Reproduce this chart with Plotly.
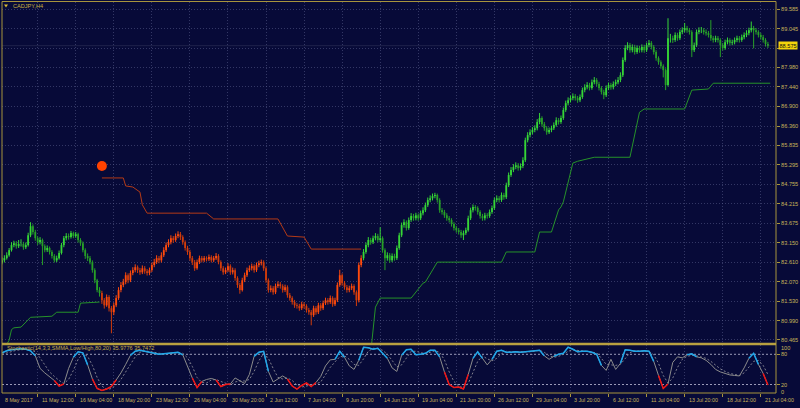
import plotly.graph_objects as go

# ---------------- data ----------------
close = [
82.66,82.72,82.80,82.94,83.08,83.13,83.05,83.11,83.11,83.02,
83.08,83.35,83.60,83.44,83.27,83.16,83.22,83.05,82.94,83.00,
82.89,82.78,82.66,82.72,82.86,83.08,83.27,83.33,83.30,83.41,
83.33,83.38,83.22,83.13,82.94,82.78,82.72,82.61,82.39,82.11,
81.84,81.76,81.56,81.42,81.65,81.34,81.23,81.42,81.62,81.84,
81.98,82.06,82.25,82.11,82.31,82.39,82.47,82.39,82.33,82.44,
82.36,82.31,82.39,82.53,82.61,82.72,82.66,82.80,82.94,83.08,
83.16,83.27,83.22,83.33,83.38,83.30,83.16,83.00,82.89,82.72,
82.61,82.44,82.61,82.72,82.66,82.72,82.69,82.75,82.66,82.72,
82.78,82.61,82.44,82.33,82.39,82.50,82.33,82.39,82.17,81.98,
81.84,82.11,82.25,82.39,82.44,82.50,82.39,82.53,82.58,82.61,
82.44,82.11,81.84,81.89,81.78,81.95,82.00,81.95,81.84,81.92,
81.70,81.62,81.51,81.42,81.40,81.34,81.45,81.40,81.29,81.23,
81.15,81.34,81.23,81.42,81.34,81.48,81.56,81.51,81.62,81.45,
81.56,81.98,82.25,82.03,81.92,81.84,81.89,81.95,81.78,81.56,
82.53,82.72,82.89,83.08,83.22,83.16,83.27,83.33,83.22,83.27,
82.94,82.72,82.80,82.66,82.78,82.72,83.00,83.35,83.63,83.71,
83.55,83.77,83.88,83.82,83.90,83.82,83.96,84.04,84.18,84.32,
84.37,84.43,84.46,84.32,84.04,83.99,83.90,83.82,83.77,83.66,
83.55,83.49,83.44,83.35,83.41,83.49,83.82,84.04,84.13,84.10,
83.99,83.88,83.82,83.90,83.88,83.99,84.10,84.32,84.37,84.32,
84.46,84.40,84.73,85.01,85.15,85.23,85.28,85.20,85.26,85.42,
85.97,86.11,86.19,86.25,86.30,86.47,86.58,86.41,86.30,86.19,
86.25,86.30,86.39,86.52,86.47,86.58,86.80,86.99,87.07,87.13,
87.18,87.13,87.07,87.16,87.35,87.43,87.49,87.41,87.57,87.63,
87.52,87.41,87.30,87.21,87.41,87.49,87.43,87.52,87.57,87.63,
87.76,88.18,88.51,88.59,88.45,88.54,88.40,88.51,88.45,88.54,
88.45,88.59,88.65,88.54,88.40,88.23,88.12,88.01,87.90,87.49,
88.78,88.78,88.73,88.87,88.78,88.95,89.00,89.06,89.00,88.95,
88.45,88.59,88.95,89.00,89.00,88.95,88.92,88.87,88.78,88.73,
88.78,88.73,88.59,88.51,88.67,88.73,88.65,88.67,88.73,88.78,
88.73,88.81,88.87,88.92,89.00,89.06,89.00,88.95,88.87,88.81,
88.73,88.62,88.575]

high = [
82.74,82.80,82.88,83.00,83.16,83.20,83.19,83.22,83.24,83.17,
83.15,83.42,83.71,83.65,83.50,83.32,83.30,83.26,83.10,83.07,
83.04,82.94,82.83,82.79,82.93,83.14,83.33,83.41,83.40,83.47,
83.45,83.44,83.42,83.27,83.18,82.99,82.85,82.78,82.66,82.44,
82.15,81.92,81.82,81.62,81.72,81.70,81.40,81.49,81.70,81.92,
82.06,82.15,82.33,82.30,82.38,82.47,82.55,82.52,82.45,82.52,
82.50,82.42,82.46,82.60,82.70,82.80,82.78,82.88,83.02,83.15,
83.24,83.35,83.33,83.40,83.46,83.44,83.35,83.21,83.06,82.95,
82.78,82.67,82.68,82.79,82.78,82.78,82.77,82.82,82.80,82.78,
82.86,82.83,82.66,82.50,82.46,82.58,82.55,82.46,82.44,82.22,
82.04,82.18,82.32,82.46,82.52,82.57,82.55,82.60,82.65,82.68,
82.66,82.49,82.16,81.97,81.95,82.02,82.08,82.06,82.00,81.99,
81.97,81.76,81.67,81.57,81.48,81.46,81.52,81.51,81.45,81.35,
81.29,81.41,81.40,81.49,81.48,81.55,81.63,81.62,81.69,81.67,
81.63,82.05,82.40,82.30,82.09,81.98,81.96,82.02,82.00,81.83,
82.60,82.80,82.97,83.15,83.30,83.28,83.34,83.41,83.39,83.57,
83.32,82.99,82.88,82.86,82.85,82.84,83.07,83.42,83.70,83.79,
83.76,83.84,83.96,83.94,83.97,83.95,84.03,84.12,84.25,84.39,
84.45,84.50,84.52,84.50,84.37,84.10,84.05,83.96,83.88,83.82,
83.71,83.61,83.55,83.50,83.48,83.56,83.89,84.11,84.20,84.18,
84.15,84.04,83.94,83.97,83.96,84.06,84.17,84.39,84.45,84.43,
84.53,84.52,84.80,85.08,85.23,85.31,85.36,85.34,85.33,85.50,
86.04,86.19,86.27,86.33,86.38,86.55,86.72,86.63,86.47,86.36,
86.32,86.37,86.46,86.60,86.58,86.65,86.87,87.06,87.15,87.20,
87.26,87.24,87.19,87.23,87.42,87.51,87.57,87.55,87.64,87.71,
87.68,87.58,87.46,87.36,87.48,87.56,87.55,87.59,87.64,87.71,
87.84,88.25,88.59,88.67,88.65,88.61,88.60,88.58,88.57,88.61,
88.60,88.66,88.73,88.70,88.59,88.45,88.28,88.17,88.06,87.95,
89.33,88.90,88.85,88.94,88.93,89.02,89.08,89.20,89.12,89.06,
89.00,88.66,89.02,89.08,89.09,89.06,89.02,88.98,89.28,88.84,
88.85,88.84,88.78,88.65,88.74,88.80,88.78,88.74,88.80,88.85,
88.84,88.88,88.94,89.00,89.07,89.24,89.12,89.06,89.00,88.93,
88.87,88.78,88.68]

low = [
82.55,82.60,82.68,82.76,82.90,83.02,82.98,83.00,83.04,82.95,
82.97,83.04,83.30,83.37,83.20,83.08,83.10,82.53,82.88,82.89,
82.82,82.71,82.60,82.61,82.68,82.82,83.02,83.21,83.23,83.26,
83.27,83.28,83.15,83.06,82.88,82.70,82.64,82.55,82.32,82.03,
81.78,81.66,81.46,81.33,81.38,81.25,80.65,81.15,81.37,81.57,
81.78,81.92,82.00,82.03,82.06,82.25,82.33,82.31,82.26,82.28,
82.29,82.24,82.25,82.34,82.47,82.56,82.58,82.60,82.75,82.89,
83.02,83.10,83.14,83.17,83.27,83.22,83.09,82.93,82.81,82.65,
82.53,82.37,82.40,82.56,82.60,82.61,82.63,82.64,82.60,82.61,
82.67,82.55,82.37,82.26,82.28,82.34,82.26,82.27,82.10,81.90,
81.74,81.80,82.06,82.20,82.34,82.38,82.32,82.34,82.47,82.52,
82.37,82.04,81.77,81.78,81.71,81.73,81.90,81.88,81.77,81.79,
81.63,81.55,81.44,81.35,81.33,81.27,81.29,81.33,81.22,81.16,
80.87,81.10,81.16,81.18,81.27,81.29,81.43,81.44,81.46,81.38,
81.40,81.51,81.93,81.96,81.85,81.77,81.78,81.84,81.71,81.40,
81.50,82.47,82.66,82.84,83.02,83.09,83.11,83.21,83.15,83.16,
82.87,82.39,82.65,82.59,82.61,82.65,82.67,82.95,83.30,83.56,
83.48,83.50,83.72,83.75,83.76,83.75,83.77,83.90,83.99,84.13,
84.26,84.31,84.37,84.25,83.97,83.92,83.83,83.75,83.70,83.59,
83.48,83.42,83.37,83.28,83.22,83.36,83.45,83.77,83.98,84.03,
83.92,83.81,83.75,83.76,83.81,83.83,83.94,84.05,84.26,84.25,
84.27,84.33,84.35,84.68,84.96,85.09,85.17,85.13,85.14,85.20,
85.37,85.91,86.05,86.13,86.19,86.24,86.41,86.34,86.23,86.12,
86.14,86.19,86.25,86.34,86.40,86.42,86.53,86.75,86.93,87.01,
87.07,87.06,87.00,87.02,87.11,87.29,87.37,87.34,87.36,87.51,
87.45,87.34,87.23,87.10,87.16,87.35,87.36,87.37,87.46,87.51,
87.57,87.71,88.13,88.45,88.38,88.39,88.33,88.35,88.38,88.39,
88.38,88.40,88.53,88.47,88.33,88.16,88.05,87.94,87.70,87.35,
87.45,88.66,88.65,88.68,88.71,88.73,88.89,88.94,88.93,88.88,
88.26,88.40,88.54,88.89,88.92,88.88,88.85,88.80,88.71,88.66,
88.67,88.66,88.26,88.44,88.46,88.61,88.58,88.59,88.61,88.67,
88.66,88.68,88.75,88.81,88.86,88.94,88.50,88.88,88.80,88.74,
88.66,88.55,88.51]

first_open = 82.60
open_ = [first_open] + close[:-1]

# bars (inclusive) in the down-trend (orange) regime
down_trend = (42, 151)

# trailing-stop lines: (bar, price) vertices
stop_up1_bar = [0, 3, 4, 5, 8, 10, 12, 21, 23, 32, 33, 41]
stop_up1_val = [80.10, 80.46, 80.75, 80.80, 80.82, 80.95, 81.09, 81.12, 81.23, 81.23, 81.48, 81.51]
stop_dn_bar = [42, 51, 52, 55, 58, 59, 61, 86, 89, 116, 120, 127, 130, 151]
stop_dn_val = [84.93, 84.93, 84.71, 84.68, 84.54, 84.19, 83.96, 83.96, 83.80, 83.80, 83.33, 83.30, 82.97, 82.97]
stop_up2_bar = [155, 157, 159, 172, 177, 178, 183, 210, 212, 224, 226, 231, 234, 235, 236, 239, 240, 242,
                249, 264, 268, 270, 287, 290, 297, 299, 323]
stop_up2_val = [80.10, 81.37, 81.62, 81.62, 82.03, 82.06, 82.61, 82.61, 82.89, 82.89, 83.44, 83.44, 84.05,
                84.13, 84.27, 85.09, 85.34, 85.39, 85.50, 85.50, 86.74, 86.83, 86.83, 87.35, 87.38, 87.54, 87.54]
signal_dot_bar = 42
signal_dot_val = 85.26

current_price = 88.575

# stochastic sampled every 2 bars
stoch_step = 2
stoch_main = [83,87,89,90,91,90,87,77,52,43, 35,28,17,21,52,74,85,83,59,31,
              12,8,11,16,29,43,60,78,86,88, 86,84,83,80,81,82,83,84,79,55,
              33,14,26,30,32,29,16,20,21,33, 27,22,40,76,84,86,46,25,31,37,
              31,17,11,18,23,16,24,36,57,69, 70,86,74,57,50,68,94,93,90,92,
              82,72,53,46,78,89,90,79,80,82, 88,88,75,45,20,14,15,11,40,72,
              85,72,59,70,86,88,84,84,85,84, 85,86,88,88,77,70,76,80,82,94,
              90,85,86,86,84,80,58,48,70,50, 62,89,88,86,86,87,86,66,38,12,
              21,64,75,73,79,81,75,73,68,60, 50,45,42,39,38,37,53,72,82,60,
              42,19]
stoch_signal = [80,83,86,88,89,90,89,85,73,58, 45,36,28,22,30,48,70,81,76,58,
                34,17,10,12,19,30,44,60,75,84, 87,86,84,82,81,81,82,83,82,73,
                56,34,24,23,29,30,26,22,19,25, 27,27,30,46,67,82,72,52,34,31,
                33,28,19,15,17,19,21,25,39,54, 65,75,77,70,60,58,71,86,92,91,
                88,80,68,55,59,73,86,86,83,81, 84,87,84,69,45,26,17,13,22,44,
                66,77,71,67,72,81,86,85,85,84, 85,85,86,88,84,77,74,76,80,86,
                89,88,86,86,85,83,72,60,59,58, 60,72,83,87,86,86,86,79,62,38,
                23,33,54,70,76,78,77,75,72,66, 59,51,46,42,40,38,43,55,66,68,
                58,40]
stoch_levels = [80, 20]

price_ticks = [89.585, 89.045, 88.510, 87.980, 87.440, 86.900, 86.360, 85.835, 85.295,
               84.755, 84.215, 83.675, 83.150, 82.610, 82.070, 81.530, 80.990, 80.465]
price_tick_text = ["89.585", "89.045", "", "87.980", "87.440", "86.900", "86.360", "85.835", "85.295",
                   "84.755", "84.215", "83.675", "83.150", "82.610", "82.070", "81.530", "80.990", "80.465"]

date_bars = [0, 15, 31, 47, 63, 79, 95, 111, 127, 143, 159, 175, 191, 207, 223, 239, 255, 271, 287, 303, 319]
date_labels = ["8 May 2017", "11 May 12:00", "16 May 04:00", "18 May 20:00", "23 May 12:00", "26 May 04:00",
               "30 May 20:00", "2 Jun 12:00", "7 Jun 04:00", "9 Jun 20:00", "14 Jun 12:00", "19 Jun 04:00",
               "21 Jun 20:00", "26 Jun 12:00", "29 Jun 04:00", "3 Jul 20:00", "6 Jul 12:00", "11 Jul 04:00",
               "13 Jul 20:00", "18 Jul 12:00", "21 Jul 04:00"]

title_text = "CADJPY,H4"
stoch_text = "Stochastic(14,3,3,SMMA,Low/High,80,20) 35.9776 35.7472"

# ---------------- style ----------------
W, H = 800, 408
BG = "#070a38"
GOLD = "#a8943c"
GOLD_B = "#b8a040"
TXT = "#c8b458"
GRID = "rgba(95,100,145,0.5)"
GDASH = "1px,2px"
FONT = "Liberation Sans, Arial, sans-serif"
FS = 5.6
FS_DATE = 5.3

def px_x(p):
    return p / W

def px_y(p):
    return 1 - p / H

colors = {
    (False, True): "#36d636",
    (False, False): "#27a027",
    (True, True): "#ff4a0c",
    (True, False): "#d23c0a",
}

fig = go.Figure()

N = len(close)
groups = {k: ([], [], [], []) for k in colors}
for i in range(N):
    is_down = down_trend[0] <= i <= down_trend[1]
    bull = close[i] >= open_[i]
    wx, wy, bx, by = groups[(is_down, bull)]
    wx += [i, i, None]
    wy += [low[i], high[i], None]
    bx += [i, i, None]
    by += [open_[i], close[i], None]

for k, (wx, wy, bx, by) in groups.items():
    fig.add_trace(go.Scatter(x=wx, y=wy, mode="lines", line=dict(color=colors[k], width=1),
                             hoverinfo="skip", xaxis="x", yaxis="y"))
    fig.add_trace(go.Scatter(x=bx, y=by, mode="lines", line=dict(color=colors[k], width=1.8),
                             hoverinfo="skip", xaxis="x", yaxis="y"))

# trailing stops
fig.add_trace(go.Scatter(x=stop_up1_bar, y=stop_up1_val, mode="lines",
                         line=dict(color="#26922a", width=1), xaxis="x", yaxis="y", hoverinfo="skip"))
fig.add_trace(go.Scatter(x=stop_up2_bar, y=stop_up2_val, mode="lines",
                         line=dict(color="#26922a", width=1), xaxis="x", yaxis="y", hoverinfo="skip"))
fig.add_trace(go.Scatter(x=stop_dn_bar, y=stop_dn_val, mode="lines",
                         line=dict(color="#b43a16", width=1), xaxis="x", yaxis="y", hoverinfo="skip"))
fig.add_trace(go.Scatter(x=[signal_dot_bar], y=[signal_dot_val], mode="markers",
                         marker=dict(color="#ff4200", size=10, line=dict(width=0)),
                         xaxis="x", yaxis="y", hoverinfo="skip"))
# bid line
fig.add_trace(go.Scatter(x=[0, 326], y=[current_price, current_price], mode="lines",
                         line=dict(color="rgba(120,120,140,0.22)", width=1),
                         xaxis="x", yaxis="y", hoverinfo="skip"))

# stochastic
sx = [i * stoch_step for i in range(len(stoch_main))]
for lv in stoch_levels:
    fig.add_trace(go.Scatter(x=[0, 326], y=[lv, lv], mode="lines",
                             line=dict(color="#9a9ab8", width=1, dash="2px,2px"),
                             xaxis="x2", yaxis="y2", hoverinfo="skip"))
fig.add_trace(go.Scatter(x=sx, y=stoch_signal, mode="lines",
                         line=dict(color="#80808e", width=1, dash="2px,2px"),
                         xaxis="x2", yaxis="y2", hoverinfo="skip"))
fig.add_trace(go.Scatter(x=sx, y=stoch_main, mode="lines",
                         line=dict(color="#8c8c8c", width=1),
                         xaxis="x2", yaxis="y2", hoverinfo="skip"))

def zone(test):
    ys = []
    n = len(stoch_main)
    for j, v in enumerate(stoch_main):
        near = test(v) or (j > 0 and test(stoch_main[j - 1])) or (j < n - 1 and test(stoch_main[j + 1]))
        ys.append(v if near else None)
    return ys

fig.add_trace(go.Scatter(x=sx, y=zone(lambda v: v >= 80), mode="lines", connectgaps=False,
                         line=dict(color="#1ea6ea", width=1.5), xaxis="x2", yaxis="y2", hoverinfo="skip"))
fig.add_trace(go.Scatter(x=sx, y=zone(lambda v: v <= 20), mode="lines", connectgaps=False,
                         line=dict(color="#f01414", width=1.5), xaxis="x2", yaxis="y2", hoverinfo="skip"))

# ---------------- layout ----------------
xr = [0, 325.4]
main_dom = [px_y(343), px_y(2)]
ind_dom = [px_y(393), px_y(345)]

fig.update_layout(
    width=W, height=H, margin=dict(l=0, r=0, t=0, b=0, autoexpand=False), autosize=False,
    paper_bgcolor=BG, plot_bgcolor=BG, showlegend=False, hovermode=False,
    xaxis=dict(domain=[px_x(2), px_x(776)], range=xr, anchor="y", showticklabels=False,
               tickvals=date_bars[1:], showgrid=True, gridcolor=GRID, griddash=GDASH, gridwidth=1,
               zeroline=False, showline=False, ticks=""),
    yaxis=dict(domain=main_dom, range=[80.382, 89.778], anchor="x", side="right",
               tickvals=price_ticks, ticktext=price_tick_text, ticks="outside", ticklen=3,
               tickcolor=GOLD, tickfont=dict(family=FONT, size=FS, color=TXT),
               showgrid=True, gridcolor=GRID, griddash=GDASH, gridwidth=1, zeroline=False, showline=False),
    xaxis2=dict(domain=[px_x(2), px_x(776)], range=xr, anchor="y2", showticklabels=False,
                tickvals=date_bars[1:], ticks="outside", ticklen=3, tickcolor=GOLD,
                showgrid=True, gridcolor=GRID, griddash=GDASH, gridwidth=1, zeroline=False, showline=False),
    yaxis2=dict(domain=ind_dom, range=[3.1, 98.5], anchor="x2", side="right",
                tickvals=stoch_levels, ticks="outside", ticklen=3, tickcolor=GOLD,
                showticklabels=False, showgrid=False, zeroline=False, showline=False),
)

shapes = []
fl = dict(color=GOLD, width=1)
shapes.append(dict(type="line", xref="paper", yref="paper", x0=px_x(2), x1=px_x(2), y0=px_y(393), y1=px_y(1.5), line=fl))
shapes.append(dict(type="line", xref="paper", yref="paper", x0=px_x(776), x1=px_x(776), y0=px_y(393), y1=px_y(1.5), line=fl))
shapes.append(dict(type="line", xref="paper", yref="paper", x0=px_x(2), x1=px_x(776), y0=px_y(1.5), y1=px_y(1.5), line=fl))
shapes.append(dict(type="line", xref="paper", yref="paper", x0=px_x(2), x1=px_x(776), y0=px_y(393), y1=px_y(393), line=fl))
shapes.append(dict(type="line", xref="paper", yref="paper", x0=px_x(2), x1=px_x(776), y0=px_y(344), y1=px_y(344),
                   line=dict(color=GOLD_B, width=2.5)))
# title triangle
shapes.append(dict(type="path", xref="paper", yref="paper",
                   path=f"M {px_x(4)} {px_y(4.5)} L {px_x(8)} {px_y(4.5)} L {px_x(6)} {px_y(7.5)} Z",
                   fillcolor="#d8b830", line=dict(width=0)))
fig.update_layout(shapes=shapes)

ann = []
ann.append(dict(xref="paper", yref="paper", x=px_x(11), y=px_y(6), text=title_text, showarrow=False,
                xanchor="left", yanchor="middle", font=dict(family=FONT, size=FS, color="#c8b040")))
ann.append(dict(xref="paper", yref="paper", x=px_x(5), y=px_y(347.5), text=stoch_text, showarrow=False,
                xanchor="left", yanchor="middle", font=dict(family=FONT, size=FS, color="#c8b04a")))
for t, yy in [("100", 348.3), ("80", 354.3), ("20", 385), ("0", 391.7)]:
    ann.append(dict(xref="paper", yref="paper", x=px_x(779), y=px_y(yy), text=t, showarrow=False,
                    xanchor="left", yanchor="middle", font=dict(family=FONT, size=FS, color=TXT)))
for b, t in zip(date_bars, date_labels):
    ann.append(dict(xref="x2", yref="paper", x=b, y=px_y(400), text=t, showarrow=False, xshift=2 if b else 0.5,
                    xanchor="left", yanchor="middle", font=dict(family=FONT, size=FS_DATE, color=TXT)))
ann.append(dict(xref="paper", yref="y", x=px_x(777.5), y=current_price, text="88.575", showarrow=False,
                xanchor="left", yanchor="middle", bgcolor="#f4d40c", borderpad=0.5,
                font=dict(family=FONT, size=FS, color="#101010")))
fig.update_layout(annotations=ann)

fig.write_html("out.html", config={"displayModeBar": False},
               post_script="document.body.style.margin='0';document.body.style.padding='0';"
                           "document.body.style.overflow='hidden';")
